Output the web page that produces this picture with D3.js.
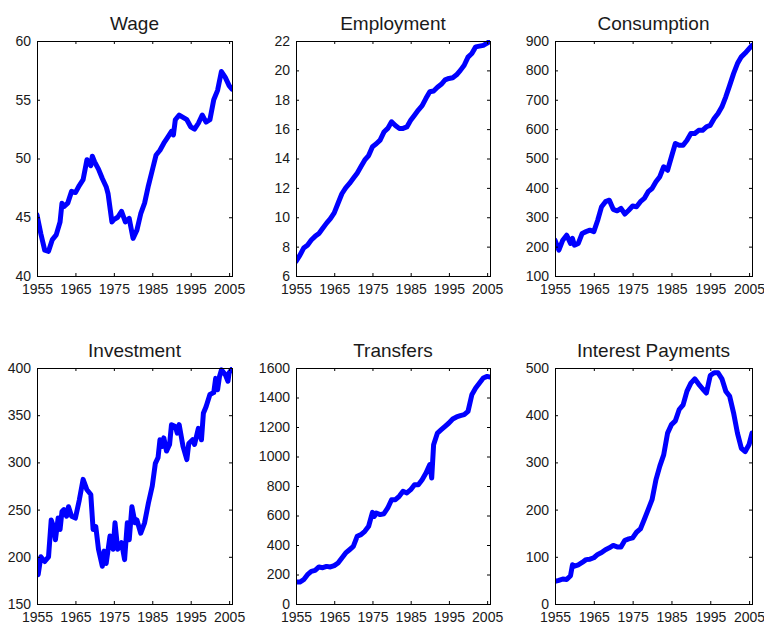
<!DOCTYPE html>
<html>
<head>
<meta charset="utf-8">
<script src="https://cdn.jsdelivr.net/npm/d3@7/dist/d3.min.js"></script>
<style>
  html, body { margin: 0; padding: 0; background: #fff; }
  text { font-family: "Liberation Sans", Arial, sans-serif; fill: #1a1a1a; }
</style>
</head>
<body>
<svg id="chart" width="764" height="624"></svg>
<script>
// ---------------- data ----------------
const xTicks = [1955, 1965, 1975, 1985, 1995, 2005];

const wageYears = [1955,1956,1957,1958,1959,1960,1961,1961.5,1962,1963,1964,1965,1966,1967,1968,1969,1969.4,1970,1971,1972,1973,1973.5,1974.5,1975,1976,1977,1978,1979,1980,1981,1982,1983,1984,1985,1986,1987,1988,1989,1990,1990.5,1991,1992,1993,1994,1995,1996,1997,1998,1999,2000,2001,2002,2003,2004,2005,2005.75];
const wageValues = [45.2,43.6,42.2,42.1,43.1,43.5,44.6,46.2,45.9,46.2,47.2,47.1,47.7,48.2,49.9,49.4,50.2,49.7,49.1,48.3,47.6,47.0,44.6,44.8,45.0,45.5,44.6,44.9,43.2,43.9,45.3,46.2,47.7,49.0,50.3,50.7,51.3,51.8,52.3,52.0,53.3,53.7,53.5,53.3,52.7,52.5,53.0,53.7,53.1,53.3,55.0,55.8,57.4,56.9,56.2,55.9];
const wageTicks = [40, 45, 50, 55, 60];

const empYears = [1955,1956,1957,1958,1959,1960,1961,1962,1963,1964,1965,1966,1967,1968,1969,1970,1971,1972,1973,1974,1975,1976,1977,1978,1979,1980,1981,1982,1983,1984,1985,1986,1987,1988,1989,1990,1991,1992,1993,1994,1995,1996,1997,1998,1999,2000,2001,2002,2003,2004,2005,2005.75];
const empValues = [7.0,7.4,7.9,8.1,8.45,8.7,8.9,9.25,9.6,9.9,10.3,10.95,11.6,12.0,12.3,12.65,13.0,13.45,13.9,14.2,14.8,15.0,15.25,15.8,16.05,16.5,16.25,16.05,16.05,16.15,16.6,16.95,17.3,17.6,18.1,18.55,18.6,18.85,19.05,19.35,19.45,19.5,19.7,20.0,20.35,20.9,21.15,21.6,21.65,21.7,21.85,22.0];
const empTicks = [6, 8, 10, 12, 14, 16, 18, 20, 22];

const consYears = [1955,1955.5,1956,1957,1958,1959,1959.5,1960,1961,1962,1963,1964,1965,1966,1967,1968,1969,1970,1971,1972,1973,1974,1975,1976,1977,1978,1979,1980,1981,1982,1983,1984,1985,1986,1987,1988,1989,1990,1991,1992,1993,1994,1995,1996,1997,1998,1999,2000,2001,2002,2003,2004,2005,2005.75];
const consValues = [222,205,188,222,239,211,228,205,211,245,251,256,251,290,336,353,358,327,322,330,311,324,338,336,353,364,387,398,421,438,472,460,506,551,545,545,562,585,585,596,596,608,613,636,653,676,710,749,789,823,846,859,874,885];
const consTicks = [100, 200, 300, 400, 500, 600, 700, 800, 900];

const invYears = [1955,1955.3,1956,1957,1958,1958.7,1959.3,1959.8,1960.5,1961,1961.5,1962,1962.7,1963.2,1964,1965,1966,1967,1968,1969,1969.6,1970.3,1971,1972,1972.5,1973,1974,1974.8,1975.3,1976,1977,1977.8,1978.5,1979,1979.7,1980.5,1981,1982,1983,1984,1985,1985.8,1986.5,1987,1987.6,1988,1988.7,1989.5,1990,1991,1991.5,1992,1993,1994,1994.5,1995.5,1996,1997,1997.8,1998.3,1999,2000,2001,2001.5,2002,2002.5,2003,2004,2004.7,2005,2005.75];
const invValues = [197,181,200,195,200,239,232,218,241,229,248,250,243,253,243,241,260,282,271,266,229,232,208,190,206,193,222,208,236,208,215,197,236,218,253,236,239,225,236,257,275,299,305,324,317,326,312,319,340,338,331,340,317,303,320,324,319,336,324,352,359,372,374,389,377,391,398,393,386,395,399];
const invTicks = [150, 200, 250, 300, 350, 400];

const trYears = [1955,1956,1957,1958,1959,1960,1961,1962,1963,1964,1965,1966,1967,1968,1969,1970,1971,1972,1973,1974,1975,1975.5,1976,1977,1978,1979,1980,1981,1982,1983,1984,1985,1986,1987,1988,1989,1990,1990.5,1991,1992,1993,1994,1995,1996,1997,1998,1999,2000,2001,2002,2003,2004,2005,2005.75];
const trValues = [149,149,165,199,221,228,251,246,255,251,260,278,312,346,368,391,459,470,493,527,621,594,617,606,612,651,707,707,730,764,753,775,809,809,843,888,945,854,1080,1159,1182,1205,1227,1254,1268,1277,1284,1306,1419,1464,1498,1532,1543,1539];
const trTicks = [0, 200, 400, 600, 800, 1000, 1200, 1400, 1600];

const intYears = [1955,1956,1957,1958,1959,1959.5,1960,1961,1962,1963,1964,1965,1966,1967,1968,1969,1970,1971,1972,1973,1974,1975,1976,1977,1978,1979,1980,1981,1982,1983,1984,1985,1986,1987,1988,1989,1990,1991,1992,1993,1994,1995,1996,1997,1998,1999,2000,2001,2002,2003,2004,2005,2005.75];
const intValues = [48,50,53,52,60,83,80,83,88,94,95,98,105,109,115,119,124,121,121,135,138,140,152,159,179,200,221,263,292,316,362,380,388,412,422,451,468,477,466,456,447,484,490,490,477,451,440,405,362,330,323,338,362];
const intTicks = [0, 100, 200, 300, 400, 500];

const titles = ["Wage", "Employment", "Consumption", "Investment", "Transfers", "Interest Payments"];

// ---------------- drawing ----------------
const panels = [
  { title: titles[0], xs: wageYears, ys: wageValues, yTicks: wageTicks, x0: 37,  x1: 232, y0: 41,  y1: 276 },
  { title: titles[1], xs: empYears,  ys: empValues,  yTicks: empTicks,  x0: 296, x1: 490, y0: 41,  y1: 276 },
  { title: titles[2], xs: consYears, ys: consValues, yTicks: consTicks, x0: 555, x1: 752, y0: 41,  y1: 276 },
  { title: titles[3], xs: invYears,  ys: invValues,  yTicks: invTicks,  x0: 37,  x1: 232, y0: 368, y1: 604 },
  { title: titles[4], xs: trYears,   ys: trValues,   yTicks: trTicks,   x0: 296, x1: 490, y0: 368, y1: 604 },
  { title: titles[5], xs: intYears,  ys: intValues,  yTicks: intTicks,  x0: 555, x1: 752, y0: 368, y1: 604 }
];

const svg = d3.select("#chart");
const tickLen = 3;

panels.forEach((p, i) => {
  const x = d3.scaleLinear().domain([1955, 2005.75]).range([p.x0, p.x1]);
  const y = d3.scaleLinear().domain([p.yTicks[0], p.yTicks[p.yTicks.length - 1]]).range([p.y1, p.y0]);
  const g = svg.append("g");

  const clipId = "clip" + i;
  g.append("clipPath").attr("id", clipId)
    .append("rect").attr("x", p.x0).attr("y", p.y0 - 1)
    .attr("width", p.x1 - p.x0).attr("height", p.y1 - p.y0 + 2);

  // data line
  const data = p.xs.map((d, k) => [d, p.ys[k]]);
  g.append("path")
    .datum(data)
    .attr("clip-path", `url(#${clipId})`)
    .attr("fill", "none")
    .attr("stroke", "#0000ff")
    .attr("stroke-width", 5)
    .attr("stroke-linejoin", "round")
    .attr("stroke-linecap", "round")
    .attr("d", d3.line().x(d => x(d[0])).y(d => y(d[1])));

  // axes: bottom labels, left labels, inward ticks on all four sides
  const bottom = d3.axisBottom(x).tickValues(xTicks).tickFormat(d3.format("d")).tickSizeInner(-tickLen).tickSizeOuter(0).tickPadding(8.5);
  const top = d3.axisTop(x).tickValues(xTicks).tickFormat("").tickSizeInner(-tickLen).tickSizeOuter(0);
  const left = d3.axisLeft(y).tickValues(p.yTicks).tickFormat(d3.format("d")).tickSizeInner(-tickLen).tickSizeOuter(0).tickPadding(6);
  const right = d3.axisRight(y).tickValues(p.yTicks).tickFormat("").tickSizeInner(-tickLen).tickSizeOuter(0);

  const styleAxis = sel => {
    sel.select(".domain").remove();
    sel.selectAll(".tick line").attr("stroke", "#000").attr("stroke-width", 1);
    sel.selectAll(".tick text").attr("font-size", 14).attr("fill", "#1a1a1a")
      .attr("font-family", '"Liberation Sans", Arial, sans-serif');
  };

  g.append("g").attr("transform", `translate(0,${p.y1})`).call(bottom).call(styleAxis);
  g.append("g").attr("transform", `translate(0,${p.y0})`).call(top).call(styleAxis);
  g.append("g").attr("transform", `translate(${p.x0},0)`).call(left).call(styleAxis);
  g.append("g").attr("transform", `translate(${p.x1},0)`).call(right).call(styleAxis);

  // box
  g.append("rect")
    .attr("x", p.x0 + 0.5).attr("y", p.y0 + 0.5)
    .attr("width", p.x1 - p.x0).attr("height", p.y1 - p.y0)
    .attr("fill", "none").attr("stroke", "#000").attr("stroke-width", 1);

  // title
  g.append("text")
    .attr("x", (p.x0 + p.x1) / 2)
    .attr("y", p.y0 - 11.5)
    .attr("text-anchor", "middle")
    .attr("font-size", 19)
    .text(p.title);
});
</script>
</body>
</html>
